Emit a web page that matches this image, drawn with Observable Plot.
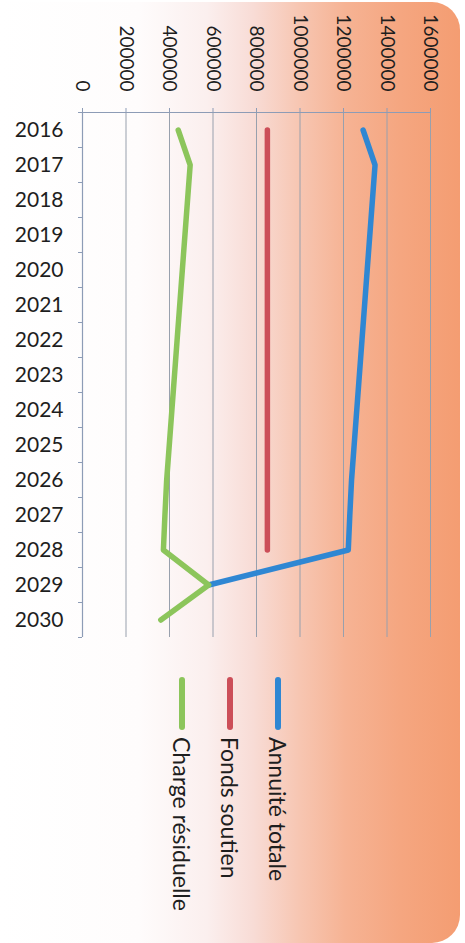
<!DOCTYPE html>
<html>
<head>
<meta charset="utf-8">
<script src="https://cdn.jsdelivr.net/npm/d3@7"></script>
<script src="https://cdn.jsdelivr.net/npm/@observablehq/plot@0.6"></script>
<style>
  html, body { margin: 0; padding: 0; background: #ffffff; }
  #page {
    position: relative;
    width: 465px;
    height: 943px;
    overflow: hidden;
    font-family: Lato, "Open Sans", sans-serif;
  }
  #bg {
    position: absolute;
    left: 0; top: 2px;
    width: 460px; height: 941px;
    border-radius: 0 28px 28px 0;
    background: linear-gradient(to right,
      #ffffff 0%, #fefcfc 30%, #fbefee 45%, #f8dcd6 55%,
      #f7c6b2 65%, #f6b394 75%, #f5a680 87%, #f49d72 100%);
  }
  #chart { position: absolute; left: 0; top: 0; }
  #chart svg { background: transparent; overflow: visible; }
  .key-swatch {
    position: absolute;
    width: 6px; height: 53px; top: 677px;
    border-radius: 3px;
  }
  .key-label {
    position: absolute;
    top: 737px;
    writing-mode: vertical-rl;
    font-size: 23px;
    line-height: 24px;
    width: 24px;
    color: #1e1e1e;
    white-space: nowrap;
  }
</style>
</head>
<body>
<div id="page">
  <div id="bg"></div>
  <div id="chart"></div>
  <div id="legend"></div>
</div>
<script>
// Years on the category axis
const years = [2016, 2017, 2018, 2019, 2020, 2021, 2022, 2023, 2024, 2025, 2026, 2027, 2028, 2029, 2030];

// Series values (euros per year); null where a series has no value
const annuiteTotale = [1290000, 1345000, 1333000, 1321000, 1309000, 1297000, 1285000, 1273000, 1261000, 1249000, 1237000, 1229000, 1222000, 580000, null];
const fondsSoutien = [850000, 850000, 850000, 850000, 850000, 850000, 850000, 850000, 850000, 850000, 850000, 850000, 850000, null, null];
const chargeResiduelle = [440000, 495000, 483000, 471000, 459000, 447000, 435000, 423000, 411000, 399000, 387000, 379000, 372000, 580000, 360000];

// Series names and colours
const seriesNames = ["Annuité totale", "Fonds soutien", "Charge résiduelle"];
const seriesColors = ["#2f87d3", "#cc4e58", "#8cc55b"];

// Value axis ticks
const valueTicks = [0, 200000, 400000, 600000, 800000, 1000000, 1200000, 1400000, 1600000];

const seriesValues = [annuiteTotale, fondsSoutien, chargeResiduelle];
const rows = [];
seriesNames.forEach((name, i) => {
  years.forEach((year, j) => {
    const v = seriesValues[i][j];
    if (v != null) rows.push({series: name, year, value: v});
  });
});

const axisColor = "#8d9cb6";
const gridColor = "#98a0ad";
const boundaries = [...years.map(y => y - 0.5), years[years.length - 1] + 0.5];

const chart = Plot.plot({
  width: 465,
  height: 660,
  marginTop: 112,
  marginBottom: 23,
  marginLeft: 82,
  marginRight: 35,
  style: {background: "transparent", fontFamily: "Lato, 'Open Sans', sans-serif"},
  x: {domain: [0, 1600000], axis: null, label: null},
  y: {domain: [years[0] - 0.5, years[years.length - 1] + 0.5], reverse: true, axis: null, label: null},
  color: {domain: seriesNames, range: seriesColors},
  marks: [
    // vertical gridlines
    Plot.ruleX(valueTicks, {stroke: gridColor, strokeWidth: 1}),
    // value axis line along the top
    Plot.ruleY([boundaries[0]], {stroke: axisColor, strokeWidth: 1.2}),
    Plot.axisX({anchor: "top", ticks: valueTicks, tickSize: 5, tickFormat: () => "", stroke: axisColor, label: null}),
    // value labels, rotated
    Plot.text(valueTicks, {
      x: d => d, frameAnchor: "top", dy: -21, rotate: 90,
      textAnchor: "end", lineAnchor: "middle",
      text: d => String(d), fontSize: 19, fill: "#1e1e1e"
    }),
    // category axis: boundary ticks and year labels
    Plot.ruleX([0], {stroke: axisColor, strokeWidth: 1.2}),
    Plot.axisY({ticks: boundaries, tickSize: 4, tickFormat: () => "", stroke: axisColor, label: null}),
    Plot.axisY({ticks: years, tickSize: 0, tickPadding: 19, tickFormat: d => String(d), fontSize: 21, fill: "#1e1e1e", label: null}),
    // series lines
    Plot.line(rows, {
      x: "value", y: "year", z: "series", stroke: "series",
      strokeWidth: 5.5, strokeLinejoin: "round", strokeLinecap: "round"
    })
  ]
});
document.getElementById("chart").appendChild(chart);

// legend below the plot, rotated like the value labels
const legendX = [278, 230, 182];
const legend = document.getElementById("legend");
seriesNames.forEach((name, i) => {
  const sw = document.createElement("div");
  sw.className = "key-swatch";
  sw.style.left = (legendX[i] - 3) + "px";
  sw.style.background = seriesColors[i];
  legend.appendChild(sw);
  const lab = document.createElement("div");
  lab.className = "key-label";
  lab.style.left = (legendX[i] - 12) + "px";
  lab.textContent = name;
  legend.appendChild(lab);
});
</script>
</body>
</html>
